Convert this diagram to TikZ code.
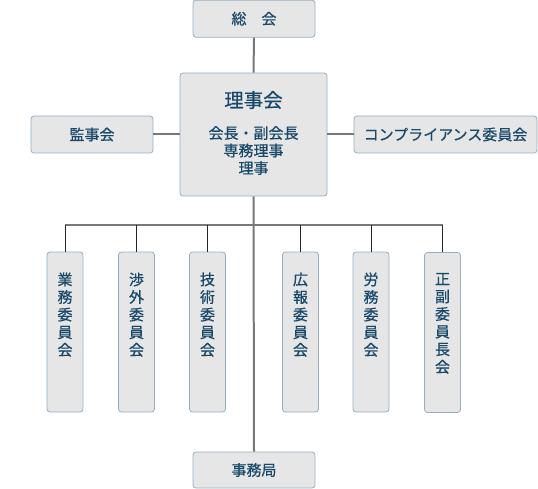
\documentclass[tikz,border=0pt]{standalone}
\usepackage{fontspec}
\setmainfont{Noto Sans CJK JP}[BoldFont={Noto Sans CJK JP}, BoldFeatures={FakeBold=0.6}]
\definecolor{boxfill}{RGB}{230,230,230}
\definecolor{boxline}{RGB}{150,175,192}
\definecolor{txt}{RGB}{24,72,106}
\definecolor{conn}{RGB}{120,120,120}
\tikzset{
  box/.style={draw=boxline, fill=boxfill, rounded corners=3pt, line width=0.8pt, text=txt, inner sep=0pt, font=\bfseries\fontsize{15}{17.6}\selectfont},
  hbox/.style={box, minimum width=122pt, minimum height=37pt},
  vbox/.style={box, minimum width=36pt, minimum height=160pt},
  main/.style={draw=conn, line width=2pt},
  busline/.style={draw=conn, line width=1.6pt},
  drop/.style={draw=black!85, line width=1pt},
  lbl/.style={text=txt, inner sep=0pt, align=center}
}
\newcommand{\vtext}[1]{\parbox[c][160pt][t]{36pt}{\centering\vspace*{20.5pt}#1}}
\begin{document}
\begin{tikzpicture}[x=1pt,y=-1pt]
\useasboundingbox (0,0) rectangle (538,489);
% nodes
\node[hbox] (sokai) at (254,18.7) {総　会};
\node[box, minimum width=147pt, minimum height=123pt] (rijikai) at (253.5,134.5) {};
\node[lbl, font=\bfseries\fontsize{19.5}{22}\selectfont] (rijititle) at (253.5,100) {理事会};
\node[lbl, font=\bfseries\fontsize{15}{17.5}\selectfont] (rijilist) at (253.5,150.5) {会長・副会長\\専務理事\\理事};
\node[hbox] (kanji) at (92,134.5) {監事会};
\node[hbox, minimum width=183pt] (comp) at (445.5,134.5) {コンプライアンス委員会};
\node[hbox, minimum height=36pt] (jimu) at (254,470) {事務局};
\node[vbox] (c1) at (65,332) {\vtext{業\\務\\委\\員\\会}};
\node[vbox] (c2) at (136.5,332) {\vtext{渉\\外\\委\\員\\会}};
\node[vbox] (c3) at (207.5,332) {\vtext{技\\術\\委\\員\\会}};
\node[vbox] (c4) at (300.5,332) {\vtext{広\\報\\委\\員\\会}};
\node[vbox] (c5) at (371,332) {\vtext{労\\務\\委\\員\\会}};
\node[vbox] (c6) at (442.5,332.5) {\vtext{正\\副\\委\\員\\長\\会}};
\coordinate (busy) at (254,225);
% connectors
\draw[main] (sokai.south) -- (rijikai.north);
\draw[main] (rijikai.south) -- (jimu.north);
\draw[main] (kanji.east) -- (rijikai.west);
\draw[main] (rijikai.east) -- (comp.west);
\draw[busline] (c1.north |- busy) -- (c6.north |- busy);
\foreach \c in {c1,c2,c3,c4,c5,c6}{
  \draw[drop] (\c.north) -- (\c.north |- busy);
}
\end{tikzpicture}
\end{document}
